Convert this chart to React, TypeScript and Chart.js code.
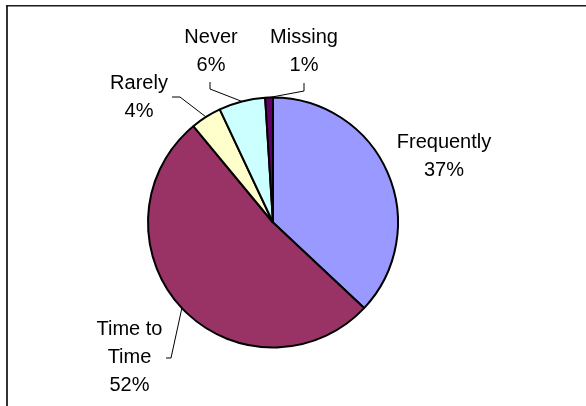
import React, { useEffect, useRef } from "react";
import { Chart, registerables } from "chart.js";

Chart.register(...registerables);

const categories = ["Frequently", "Time to Time", "Rarely", "Never", "Missing"];
const displayLabels = ["Frequently", "Time to\nTime", "Rarely", "Never", "Missing"];
const values = [37, 52, 4, 6, 1];
const colors = ["#9999FF", "#993366", "#FFFFCC", "#CCFFFF", "#660066"];

// label anchor (text center, first baseline) relative to pie centre
const labelOffsets = [
  { dx: 171, dy: -74.5 },
  { dx: -143.5, dy: 112.5 },
  { dx: -134, dy: -133.5 },
  { dx: -62, dy: -180 },
  { dx: 31, dy: -180 },
];
// leader elbow points relative to pie centre (null = no leader)
const leaderOffsets: ({ dx: number; dy: number }[] | null)[] = [
  null,
  [
    { dx: -107, dy: 135.5 },
    { dx: -102, dy: 135.5 },
  ],
  [
    { dx: -101, dy: -125.5 },
    { dx: -93, dy: -125.5 },
  ],
  [
    { dx: -63, dy: -140.5 },
    { dx: -63, dy: -133.5 },
  ],
  [
    { dx: 31, dy: -139.5 },
    { dx: 31, dy: -131.5 },
  ],
];

const LINE_HEIGHT = 28;
const FONT = '20px "Liberation Sans", Arial, sans-serif';

const labelPlugin = {
  id: "pieLabels",
  beforeDraw(chart: any) {
    const ctx = chart.ctx;
    ctx.save();
    ctx.fillStyle = "#fff";
    ctx.fillRect(0, 0, chart.width, chart.height);
    ctx.fillStyle = "#333";
    ctx.fillRect(6, 5, 2, chart.height);
    ctx.fillStyle = "#1a1a1a";
    ctx.fillRect(6, 5, chart.width, 1.5);
    ctx.restore();
  },
  afterDatasetsDraw(chart: any) {
    const ctx = chart.ctx;
    const meta = chart.getDatasetMeta(0);
    const total = values.reduce((a, b) => a + b, 0);
    ctx.save();
    meta.data.forEach((arc: any, i: number) => {
      const p = arc.getProps(["x", "y", "startAngle", "endAngle", "outerRadius"], true);
      const mid = (p.startAngle + p.endAngle) / 2;
      const ex = p.x + Math.cos(mid) * p.outerRadius;
      const ey = p.y + Math.sin(mid) * p.outerRadius;
      const leader = leaderOffsets[i];
      if (leader) {
        ctx.beginPath();
        ctx.strokeStyle = "#000";
        ctx.lineWidth = 1;
        ctx.moveTo(p.x + leader[0].dx, p.y + leader[0].dy);
        for (let k = 1; k < leader.length; k++) {
          ctx.lineTo(p.x + leader[k].dx, p.y + leader[k].dy);
        }
        ctx.lineTo(ex, ey);
        ctx.stroke();
      }
      const lines = displayLabels[i].split("\n");
      lines.push(`${Math.round((values[i] / total) * 100)}%`);
      ctx.font = FONT;
      ctx.fillStyle = "#000";
      ctx.textAlign = "center";
      ctx.textBaseline = "alphabetic";
      const lo = labelOffsets[i];
      lines.forEach((t, j) => {
        ctx.fillText(t, p.x + lo.dx, p.y + lo.dy + j * LINE_HEIGHT);
      });
    });
    ctx.restore();
  },
};

export default function App() {
  const ref = useRef<HTMLCanvasElement | null>(null);
  useEffect(() => {
    if (!ref.current) return;
    const chart = new Chart(ref.current, {
      type: "pie",
      data: {
        labels: categories,
        datasets: [
          {
            data: values,
            backgroundColor: colors,
            borderColor: "#000",
            borderWidth: 2,
            radius: 125,
          } as any,
        ],
      },
      options: {
        responsive: false,
        animation: false,
        layout: { padding: { left: 0, right: 40, top: 39, bottom: 0 } },
        plugins: {
          legend: { display: false },
          tooltip: { enabled: false },
        },
      },
      plugins: [labelPlugin],
    });
    return () => chart.destroy();
  }, []);

  return (
    <div
      style={{
        position: "fixed",
        left: 0,
        top: 0,
        width: 586,
        height: 406,
        overflow: "hidden",
        background: "#fff",
      }}
    >
      <canvas
        ref={ref}
        width={586}
        height={406}
        style={{ position: "absolute", left: 0, top: 0, width: 586, height: 406 }}
      />
    </div>
  );
}
